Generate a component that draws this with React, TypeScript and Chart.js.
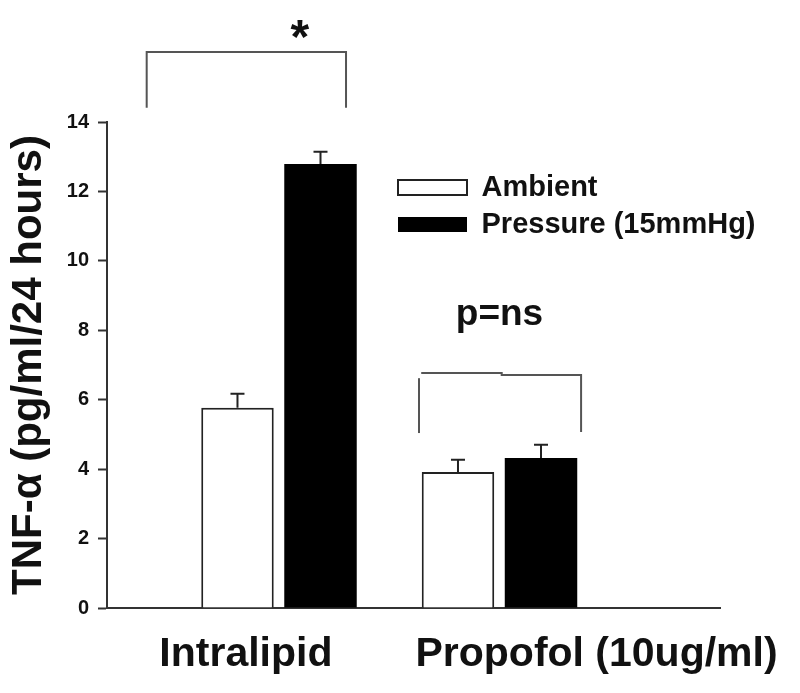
import React, { useEffect, useRef } from 'react';
import { Chart, registerables } from 'chart.js';

Chart.register(...registerables);

// ---- data ----
const categories = ['Intralipid', 'Propofol (10ug/ml)'];
const groupX = [1, 2];
const categoryLabelX = [0.85, 2.44];
const seriesNames = ['Ambient', 'Pressure (15mmHg)'];
const ambient = [5.77, 3.92];
const ambientErr = [0.4, 0.35];
const pressure = [12.79, 4.32];
const pressureErr = [0.35, 0.38];
const yTickValues = [0, 2, 4, 6, 8, 10, 12, 14];
const yTitle = 'TNF-\u03b1 (pg/ml/24 hours)';

// significance annotations (data space)
const starBracket = [[0.4, 14.41], [0.4, 16.02], [1.304, 16.02], [1.304, 14.41]];
const starText = { text: '*', x: 1.095, y: 16.0 };
const nsBracketLeft = [[1.635, 5.04], [1.635, 6.62]];
const nsBracketTop = [[1.645, 6.77], [2.01, 6.77], [2.01, 6.71], [2.37, 6.71], [2.37, 5.07]];
const nsText = { text: 'p=ns', x: 2.0, y: 8.15 };

const FONT = '"Liberation Sans", Arial, Helvetica, sans-serif';

const errorBarPlugin = {
  id: 'errorBars',
  afterDatasetsDraw(chart: any) {
    const ctx = chart.ctx;
    const yScale = chart.scales.y;
    const errs = [ambientErr, pressureErr];
    const vals = [ambient, pressure];
    ctx.save();
    ctx.strokeStyle = '#222';
    ctx.lineWidth = 2;
    chart.data.datasets.forEach((ds: any, di: number) => {
      const meta = chart.getDatasetMeta(di);
      meta.data.forEach((bar: any, i: number) => {
        const top = yScale.getPixelForValue(vals[di][i] + errs[di][i]);
        const x = bar.x;
        ctx.beginPath();
        ctx.moveTo(x, bar.y);
        ctx.lineTo(x, top);
        ctx.moveTo(x - 7, top);
        ctx.lineTo(x + 7, top);
        ctx.stroke();
      });
    });
    ctx.restore();
  },
};

const annotationPlugin = {
  id: 'sigAnnotations',
  afterDraw(chart: any) {
    const ctx = chart.ctx;
    const xs = chart.scales.x;
    const ys = chart.scales.y;
    const poly = (pts: number[][]) => {
      ctx.beginPath();
      pts.forEach((p, i) => {
        const px = xs.getPixelForValue(p[0]);
        const py = ys.getPixelForValue(p[1]);
        if (i === 0) ctx.moveTo(px, py);
        else ctx.lineTo(px, py);
      });
      ctx.stroke();
    };
    ctx.save();
    ctx.strokeStyle = '#555';
    ctx.lineWidth = 2;
    ctx.lineCap = 'butt';
    poly(starBracket);
    poly(nsBracketLeft);
    poly(nsBracketTop);
    ctx.fillStyle = '#111';
    ctx.textAlign = 'center';
    ctx.textBaseline = 'alphabetic';
    ctx.font = `bold 48px ${FONT}`;
    ctx.fillText(starText.text, xs.getPixelForValue(starText.x), ys.getPixelForValue(starText.y));
    ctx.font = `bold 37px ${FONT}`;
    ctx.fillText(nsText.text, xs.getPixelForValue(nsText.x), ys.getPixelForValue(nsText.y));
    ctx.restore();
  },
};

const legendPlacePlugin = {
  id: 'legendPlace',
  beforeDraw(chart: any) {
    const lg = chart.legend;
    if (!lg) return;
    const w = lg.width;
    const h = lg.height;
    lg.left = 390;
    lg.right = 390 + w;
    lg.top = 165;
    lg.bottom = 165 + h;
  },
};

export default function App() {
  const ref = useRef<HTMLCanvasElement | null>(null);
  useEffect(() => {
    if (!ref.current) return;
    const chart = new Chart(ref.current, {
      type: 'bar',
      data: {
        datasets: [
          {
            label: seriesNames[0],
            data: groupX.map((x, i) => ({ x, y: ambient[i] })),
            backgroundColor: '#ffffff',
            borderColor: '#222',
            borderWidth: 2,
          },
          {
            label: seriesNames[1],
            data: groupX.map((x, i) => ({ x, y: pressure[i] })),
            backgroundColor: '#000000',
            borderColor: '#000000',
            borderWidth: 0,
          },
        ],
      },
      plugins: [errorBarPlugin, annotationPlugin, legendPlacePlugin],
      options: {
        responsive: false,
        animation: false,
        categoryPercentage: 0.753,
        barPercentage: 0.873,
        layout: { padding: { top: 122, right: 80, left: 0, bottom: 0 } },
        plugins: {
          tooltip: { enabled: false },
          legend: {
            position: 'chartArea',
            align: 'start',
            labels: {
              boxWidth: 69,
              boxHeight: 15,
              padding: 8,
              color: '#111',
              font: { family: FONT, size: 29, weight: 'bold' },
            },
          },
        },
        scales: {
          x: {
            type: 'linear',
            min: 0.22,
            max: 3.0,
            offset: false,
            afterBuildTicks: (scale: any) => {
              scale.ticks = categoryLabelX.map((v) => ({ value: v }));
            },
            afterFit: (scale: any) => {
              scale.height = 85;
              scale.paddingLeft = 0;
              scale.paddingRight = 0;
            },
            ticks: {
              autoSkip: false,
              maxRotation: 0,
              minRotation: 0,
              padding: 22,
              color: '#111',
              font: { family: FONT, size: 41, weight: 'bold' },
              callback: (_v: any, i: number) => categories[i],
            },
            grid: { display: true, drawOnChartArea: false, drawTicks: false },
            border: { display: true, color: '#333', width: 2 },
          },
          y: {
            type: 'linear',
            min: 0,
            max: 14,
            afterBuildTicks: (scale: any) => {
              scale.ticks = yTickValues.map((v) => ({ value: v }));
            },
            afterFit: (scale: any) => {
              scale.width = 107;
              scale.paddingTop = 0;
              scale.paddingBottom = 0;
            },
            ticks: {
              padding: 9,
              color: '#111',
              font: { family: FONT, size: 20, weight: 'bold' },
            },
            grid: {
              display: true,
              drawOnChartArea: false,
              drawTicks: true,
              tickLength: 9,
              tickWidth: 2,
              tickColor: '#333',
            },
            border: { display: true, color: '#333', width: 2 },
            title: {
              display: true,
              text: yTitle,
              color: '#111',
              padding: { top: 4, bottom: 4 },
              font: { family: FONT, size: 42, weight: 'bold' },
            },
          },
        },
      } as any,
    });
    return () => chart.destroy();
  }, []);
  return (
    <div style={{ position: 'fixed', left: 0, top: 0, width: 800, height: 693, background: '#fff' }}>
      <canvas ref={ref} width={800} height={693} />
    </div>
  );
}
